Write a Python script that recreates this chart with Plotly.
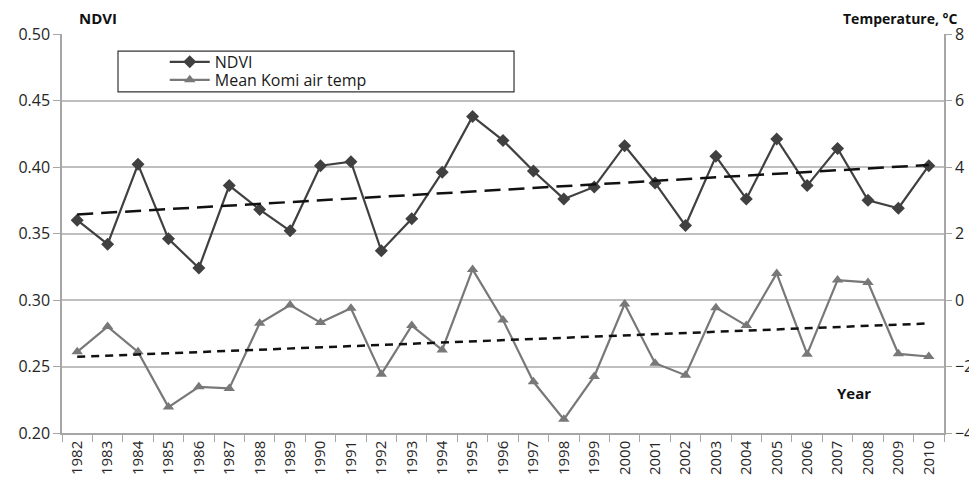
import numpy as np
import plotly.graph_objects as go

years = [str(y) for y in range(1982, 2011)]
ndvi = [0.360, 0.342, 0.402, 0.346, 0.324, 0.386, 0.368, 0.352, 0.401, 0.404,
        0.337, 0.361, 0.396, 0.438, 0.420, 0.397, 0.376, 0.385, 0.416, 0.388,
        0.356, 0.408, 0.376, 0.421, 0.386, 0.414, 0.375, 0.369, 0.401]
temp = [-1.56, -0.80, -1.56, -3.22, -2.61, -2.66, -0.70, -0.15, -0.68, -0.25,
        -2.23, -0.77, -1.50, 0.92, -0.60, -2.46, -3.59, -2.30, -0.12, -1.90,
        -2.26, -0.23, -0.77, 0.80, -1.63, 0.60, 0.53, -1.62, -1.70]
left_ticks = [0.20, 0.25, 0.30, 0.35, 0.40, 0.45, 0.50]
right_ticks = [-4, -2, 0, 2, 4, 6, 8]

idx = np.arange(len(years))
ndvi_fit = np.polyval(np.polyfit(idx, ndvi, 1), idx)
temp_fit = np.polyval(np.polyfit(idx, temp, 1), idx)

font = "Open Sans"
tick_color = "#262626"
fig = go.Figure()
fig.add_trace(go.Scatter(x=years, y=ndvi, name="NDVI", mode="lines+markers",
                         legend="legend",
                         line=dict(color="#404040", width=2.2),
                         marker=dict(symbol="diamond", size=10, color="#404040")))
fig.add_trace(go.Scatter(x=years, y=temp, name="Mean Komi air temp", mode="lines+markers",
                         yaxis="y2", legend="legend2",
                         line=dict(color="#787878", width=2.2),
                         marker=dict(symbol="triangle-up", size=10, color="#787878")))
fig.add_trace(go.Scatter(x=years, y=ndvi_fit, mode="lines", showlegend=False,
                         line=dict(color="#111111", width=2.5, dash="16px,8px")))
fig.add_trace(go.Scatter(x=years, y=temp_fit, mode="lines", showlegend=False, yaxis="y2",
                         line=dict(color="#111111", width=2.5, dash="8px,6px")))

legend_common = dict(xanchor="left", yanchor="middle", bgcolor="rgba(0,0,0,0)",
                     borderwidth=0, font=dict(size=16, color="#1a1a1a"),
                     itemwidth=40, itemsizing="trace")

fig.update_layout(
    width=969, height=480,
    margin=dict(l=62, r=25, t=34, b=47, autoexpand=False),
    paper_bgcolor="white", plot_bgcolor="white",
    font=dict(family=font, size=16, color=tick_color),
    xaxis=dict(type="category", showgrid=False, showline=True, linecolor="#a6a6a6",
               linewidth=1.5, ticks="outside", tickson="boundaries", ticklen=7,
               tickcolor="#a6a6a6", tickangle=-90, tickfont=dict(size=15),
               range=[-0.5, 28.5], automargin=False),
    yaxis=dict(range=[0.20, 0.50], tickvals=left_ticks, tickformat=".2f",
               showgrid=True, gridcolor="#bfbfbf", gridwidth=1.5,
               showline=True, linecolor="#a6a6a6", linewidth=1.5,
               ticks="outside", ticklen=7, tickcolor="#a6a6a6", zeroline=False,
               automargin=False),
    yaxis2=dict(range=[-4, 8], tickvals=right_ticks, overlaying="y", side="right",
                showgrid=False, showline=True, linecolor="#a6a6a6", linewidth=1.5,
                ticks="outside", ticklen=6, tickcolor="#a6a6a6", zeroline=False,
                automargin=False),
    legend=dict(x=0.1165, y=0.930, **legend_common),
    legend2=dict(x=0.1165, y=0.885, **legend_common),
    shapes=[dict(type="rect", xref="paper", yref="paper",
                 x0=0.0635, x1=0.5125, y0=0.855, y1=0.957,
                 line=dict(color="#333333", width=1.2), fillcolor="rgba(0,0,0,0)")],
    annotations=[
        dict(text="<b>NDVI</b>", xref="paper", yref="paper", x=0.017, y=1.0,
             yshift=16, xanchor="left", yanchor="middle", showarrow=False,
             font=dict(size=15, color="#111111")),
        dict(text="<b>Temperature, °C</b>", xref="paper", yref="paper", x=1.0,
             xshift=16, y=1.0, yshift=16, xanchor="right", yanchor="middle",
             showarrow=False, font=dict(size=14, color="#111111")),
        dict(text="<b>Year</b>", xref="paper", yref="paper", x=0.898, y=0.1,
             xanchor="center", yanchor="middle", showarrow=False,
             font=dict(size=15, color="#111111")),
    ],
)
fig.write_html("out.html", config={"displayModeBar": False},
               post_script="document.body.style.margin='0';document.body.style.overflow='hidden';")
